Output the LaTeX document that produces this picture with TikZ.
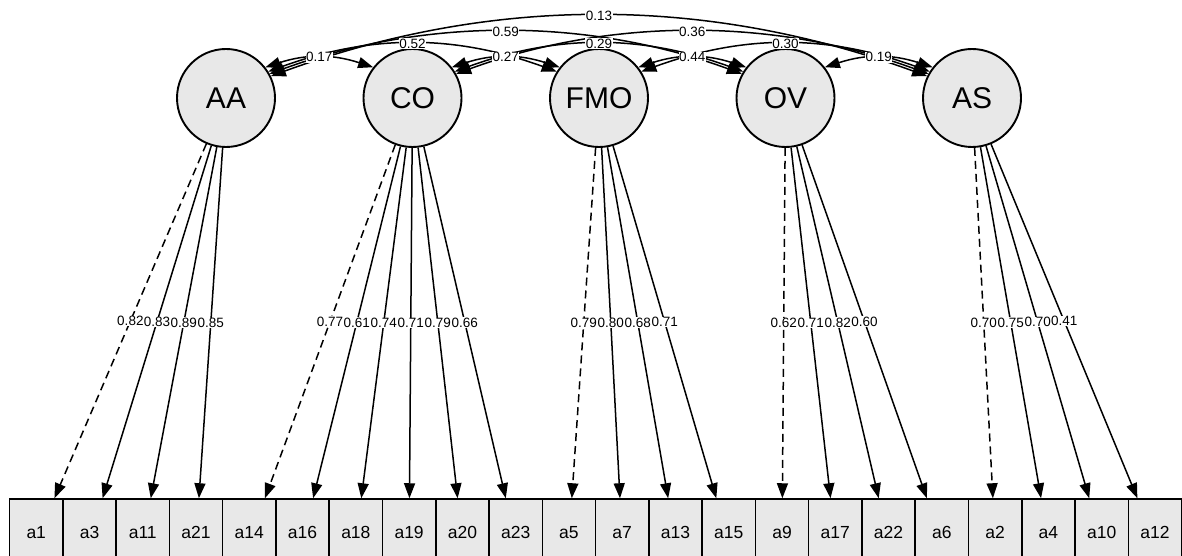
\documentclass[tikz,border=0pt]{standalone}
\usepackage{fontspec}
\setmainfont{Liberation Sans}
\usetikzlibrary{arrows.meta}

\begin{document}
\begin{tikzpicture}[x=1pt,y=-1pt]
        \tikzstyle{lat} = [draw,circle,fill=black!9,line width=1.9pt,minimum size=98pt,inner sep=0pt,font=\fontsize{30}{30}\selectfont]
        \tikzstyle{man} = [draw,rectangle,fill=black!9,line width=1.5pt,minimum width=53.27pt,minimum height=84pt,inner sep=0pt,text height=12pt,text depth=18pt,font=\fontsize{17.5}{18}\selectfont]
        \tikzstyle{lab} = [fill=white,inner sep=0.5pt,font=\fontsize{13.5}{14}\selectfont]
        \tikzstyle{load} = [line width=1.5pt,-{Triangle[length=15pt,width=11pt]}]
        \tikzstyle{fix} = [dash pattern=on 8pt off 5pt]
        \tikzstyle{cov} = [line width=1.5pt,{Triangle[length=15pt,width=11pt]}-{Triangle[length=15pt,width=11pt]}]
        \useasboundingbox (0,0) rectangle (1182,556);
        % latent factors
        \foreach \f [count=\i] in {AA,CO,FMO,OV,AS}
          \node[lat] (\f) at (39.5+186.5*\i, 98) {\f};
        % items
        \foreach \v [count=\i] in {a1,a3,a11,a21,a14,a16,a18,a19,a20,a23,a5,a7,a13,a15,a9,a17,a22,a6,a2,a4,a10,a12}
          \node[man] (\v) at (53.27*\i-17.03, 541) {\v};
        % loadings
        \foreach \f/\v/\l/\s in {AA/a1/0.82/fix,AA/a3/0.83/solid,AA/a11/0.89/solid,AA/a21/0.85/solid,
            CO/a14/0.77/fix,CO/a16/0.61/solid,CO/a18/0.74/solid,CO/a19/0.71/solid,CO/a20/0.79/solid,CO/a23/0.66/solid,
            FMO/a5/0.79/fix,FMO/a7/0.80/solid,FMO/a13/0.68/solid,FMO/a15/0.71/solid,
            OV/a9/0.62/fix,OV/a17/0.71/solid,OV/a22/0.82/solid,OV/a6/0.60/solid,
            AS/a2/0.70/fix,AS/a4/0.75/solid,AS/a10/0.70/solid,AS/a12/0.41/solid}
          \draw[load,\s] (\f) -- node[lab]{\l} (\v);
        % covariances, longest first
        \draw[cov] (AA.26) to[out=20,in=160,distance=236pt] node[lab]{0.13} (AS.154);
        \foreach \a/\b/\l in {AA/OV/0.59,CO/AS/0.36}
          \draw[cov] (\a.29) to[out=20,in=160,distance=165pt] node[lab]{\l} (\b.151);
        \foreach \a/\b/\l in {AA/FMO/0.52,CO/OV/0.29,FMO/AS/0.30}
          \draw[cov] (\a.32) to[out=20,in=160,distance=109pt] node[lab]{\l} (\b.148);
        \foreach \a/\b/\l in {AA/CO/0.17,CO/FMO/0.27,FMO/OV/0.44,OV/AS/0.19}
          \draw[cov] (\a.38) to[out=18,in=162,distance=43pt] node[lab]{\l} (\b.142);
      \end{tikzpicture}
\end{document}
